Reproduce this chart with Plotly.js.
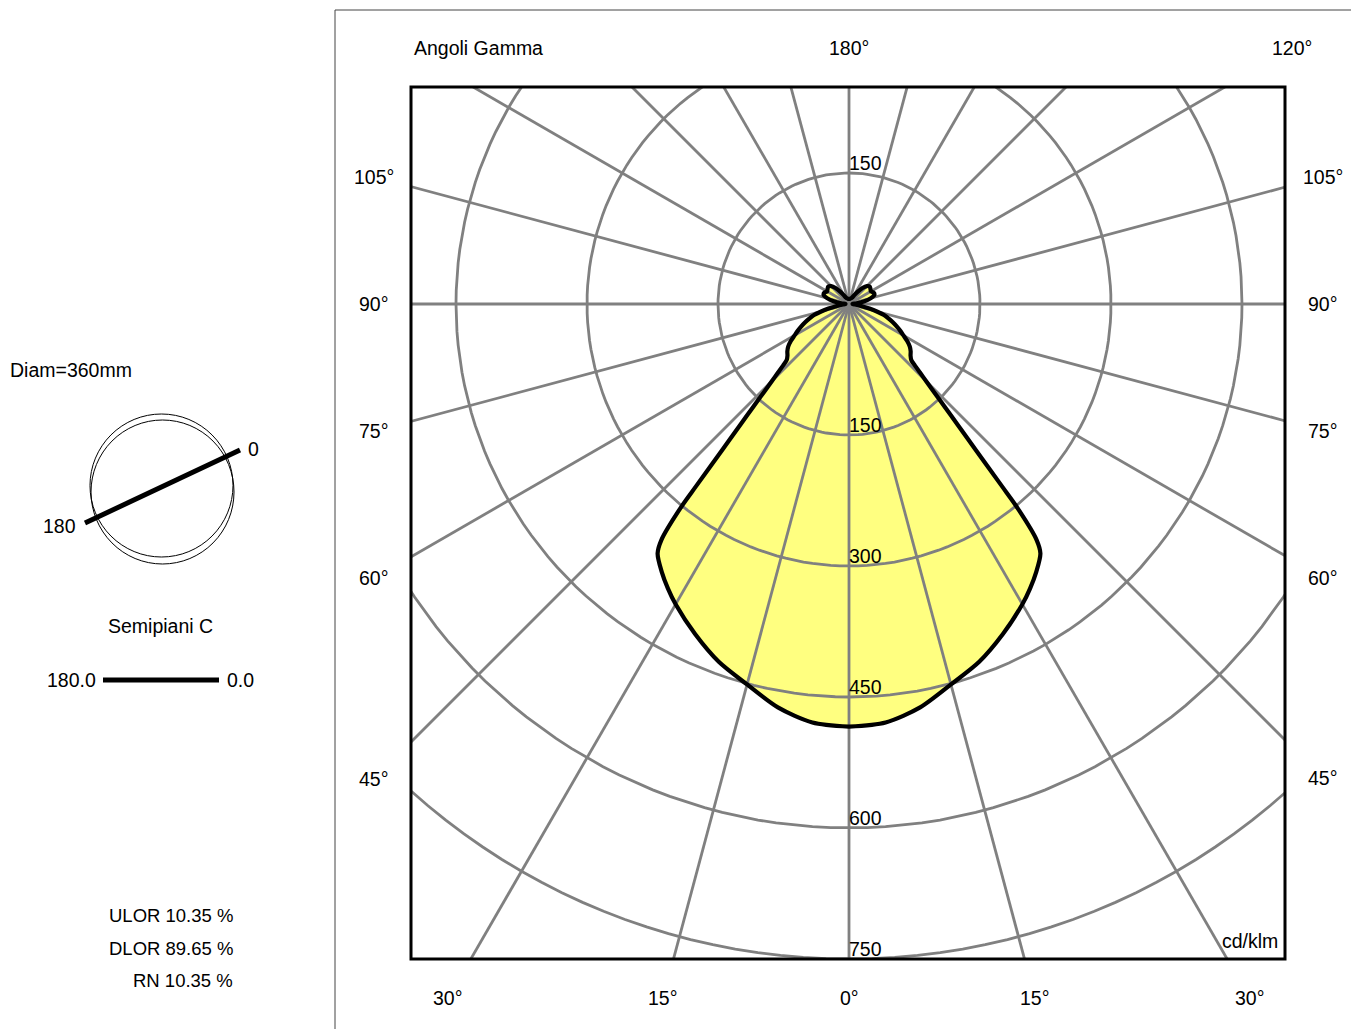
<!DOCTYPE html>
<html><head><meta charset="utf-8">
<script src="https://cdn.plot.ly/plotly-3.0.1.min.js"></script>
<style>html,body{margin:0;padding:0;background:#fff}#chart{width:1351px;height:1029px}</style>
</head><body><div id="chart"></div>
<script>
// ---- data ----
const gammaDeg = [0,5,10,15,20,25,30,32.5,35,37.5,38.5,39.6,40,41,42,43,44,45,46,47,48,50,52.5,55,57.5,60,62.5,65,67.5,70,72.5,75,77.5,80,82.5,85,87.5,90,95,100,105,110,115,120,125,130,135,140,145,150,155,160,170,180];
const intensityC0 = [484,481,469,451,436,417,397,386,374,360,345,301,273,220,185,160,140,125,113,103,96,92,89,85,79,72,66,60,54,48,42,33,24,16,11,7,5,4,9,18,26,31,31,29,30,31,29,24,17,11,8,7,6,6];
const intensityC180 = [484,481,469,451,436,417,397,386,374,360,345,301,273,220,185,160,140,125,113,103,96,92,89,85,79,72,66,60,54,48,42,33,24,16,11,7,5,4,9,18,26,31,31,29,30,31,29,24,17,11,8,7,6,6];
const ringValues = [150,300,450,600,750];
const radialStepDeg = 15;
const leftGammaLabels = [0,15,30,45,60,75,90,105];
const rightGammaLabels = [15,30,45,60,75,90,105,120,180];
const unitLabel = 'cd/klm';
const gammaTitle = 'Angoli Gamma';
const luminaireLabel = 'Diam=360mm';
const planeTitle = 'Semipiani C';
const planeLabels = ['180.0', '0.0'];
const iconLabels = ['180', '0'];
const ratioNames = ['ULOR', 'DLOR', 'RN'];
const ratioValues = [10.35, 89.65, 10.35];

// ---- geometry (pixels) ----
const W = 1351, H = 1029;
const PL = 411, PR = 1285, PT = 87, PB = 959;
const CX = 849, CY = 304;
const K = (PB - CY) / 750; // px per cd
const xRange = [(PL - CX) / K, (PR - CX) / K];
const yRange = [(CY - PB) / K, (CY - PT) / K];
const FONT = 'Liberation Sans, Arial, Helvetica, sans-serif';
const FS = 19.5;

const rad = d => d * Math.PI / 180;
const px2x = p => (p - PL) / (PR - PL);
const py2y = p => (PB - p) / (PB - PT);

// closed photometric curve
const cx = [], cy = [];
for (let i = 0; i < gammaDeg.length; i++) {
  cx.push(intensityC0[i] * Math.sin(rad(gammaDeg[i])));
  cy.push(-intensityC0[i] * Math.cos(rad(gammaDeg[i])));
}
for (let i = gammaDeg.length - 1; i >= 0; i--) {
  cx.push(-intensityC180[i] * Math.sin(rad(gammaDeg[i])));
  cy.push(-intensityC180[i] * Math.cos(rad(gammaDeg[i])));
}
cx.push(cx[0]); cy.push(cy[0]);

// grid rings
const gx = [], gy = [];
ringValues.forEach(R => {
  for (let a = 0; a <= 360; a += 2) { gx.push(R * Math.sin(rad(a))); gy.push(R * Math.cos(rad(a))); }
  gx.push(null); gy.push(null);
});
// radial lines
const rx = [], ry = [];
for (let a = 0; a < 360; a += radialStepDeg) {
  rx.push(0, 1200 * Math.sin(rad(a)), null);
  ry.push(0, -1200 * Math.cos(rad(a)), null);
}

const gridStyle = {color: '#808080', width: 2.8};
const traces = [
  {x: cx, y: cy, mode: 'lines', fill: 'toself', fillcolor: '#ffff80', line: {width: 0, color: 'rgba(0,0,0,0)', shape: 'spline', smoothing: 0.8}, hoverinfo: 'skip'},
  {x: gx, y: gy, mode: 'lines', line: gridStyle, hoverinfo: 'skip'},
  {x: rx, y: ry, mode: 'lines', line: gridStyle, hoverinfo: 'skip'},
  {x: cx, y: cy, mode: 'lines', line: {color: '#000', width: 4.2, shape: 'spline', smoothing: 0.8}, hoverinfo: 'skip'}
];

const ann = [];
function txt(px, py, text, xa, extra) {
  ann.push(Object.assign({xref: 'paper', yref: 'paper', x: px2x(px), y: py2y(py), text: text, showarrow: false,
    xanchor: xa || 'center', yanchor: 'middle', font: {family: FONT, size: FS, color: '#000'}}, extra || {}));
}

// ring labels
ringValues.forEach(R => {
  ann.push({xref: 'x', yref: 'y', x: 0, y: -R, text: String(R), showarrow: false, xanchor: 'left', yanchor: 'bottom',
    xshift: -2, yshift: -3, font: {family: FONT, size: FS, color: '#000'}});
  if (R <= yRange[1]) ann.push({xref: 'x', yref: 'y', x: 0, y: R, text: String(R), showarrow: false, xanchor: 'left', yanchor: 'bottom',
    xshift: -2, yshift: -3, font: {family: FONT, size: FS, color: '#000'}});
});

// gamma angle labels where each ray meets an outer label rectangle
const OL = 374, OR = 1323, OT = 48, OB = 998;
function rayLabel(g, side) {
  const dx = side * Math.sin(rad(g)), dy = Math.cos(rad(g));
  let t = Infinity;
  if (dx > 1e-9) t = Math.min(t, (OR - CX) / dx);
  if (dx < -1e-9) t = Math.min(t, (OL - CX) / dx);
  if (dy > 1e-9) t = Math.min(t, (OB - CY) / dy);
  if (dy < -1e-9) t = Math.min(t, (OT - CY) / dy);
  txt(CX + t * dx, CY + t * dy, g + '°');
}
leftGammaLabels.forEach(g => rayLabel(g, -1));
rightGammaLabels.forEach(g => rayLabel(g, 1));

txt(412, 48, gammaTitle, 'left');
txt(1280, 941, unitLabel, 'right');

// left panel
txt(8, 370, luminaireLabel, 'left');
txt(246, 449, iconLabels[1], 'left');
txt(78, 526, iconLabels[0], 'right');
txt(161, 626, planeTitle, 'center');
txt(98, 680, planeLabels[0], 'right');
txt(225, 680, planeLabels[1], 'left');
ratioNames.forEach((n, i) => txt(235, 915 + i * 33, n + ' ' + ratioValues[i].toFixed(2) + ' %', 'right', {font: {family: FONT, size: 18.5, color: '#000'}}));

const P = (x0, y0, x1, y1) => ({x0: px2x(x0), y0: py2y(y0), x1: px2x(x1), y1: py2y(y1)});
const shapes = [
  Object.assign({type: 'rect', xref: 'paper', yref: 'paper', line: {color: '#000', width: 3}, layer: 'above'}, P(PL, PB, PR, PT)),
  Object.assign({type: 'line', xref: 'paper', yref: 'paper', line: {color: '#444', width: 1}}, P(335, 10, 335, H)),
  Object.assign({type: 'line', xref: 'paper', yref: 'paper', line: {color: '#444', width: 1}}, P(335, 10, W, 10)),
  Object.assign({type: 'circle', xref: 'paper', yref: 'paper', line: {color: '#000', width: 1}}, P(91, 564, 234, 420)),
  Object.assign({type: 'circle', xref: 'paper', yref: 'paper', line: {color: '#000', width: 1}}, P(90, 557, 233, 414)),
  Object.assign({type: 'line', xref: 'paper', yref: 'paper', line: {color: '#000', width: 5}}, P(85, 523, 240, 450)),
  Object.assign({type: 'line', xref: 'paper', yref: 'paper', line: {color: '#000', width: 5}}, P(103, 680, 219, 680))
];

const axisBase = {showgrid: false, zeroline: false, showticklabels: false, ticks: '', showline: false, fixedrange: true};
const layout = {
  width: W, height: H,
  margin: {l: PL, r: W - PR, t: PT, b: H - PB, pad: 0},
  paper_bgcolor: '#fff', plot_bgcolor: '#fff',
  showlegend: false,
  xaxis: Object.assign({range: xRange}, axisBase),
  yaxis: Object.assign({range: yRange}, axisBase),
  annotations: ann,
  shapes: shapes,
  font: {family: FONT, size: FS, color: '#000'}
};
Plotly.newPlot('chart', traces, layout, {displayModeBar: false, staticPlot: true});
</script>
</body></html>
